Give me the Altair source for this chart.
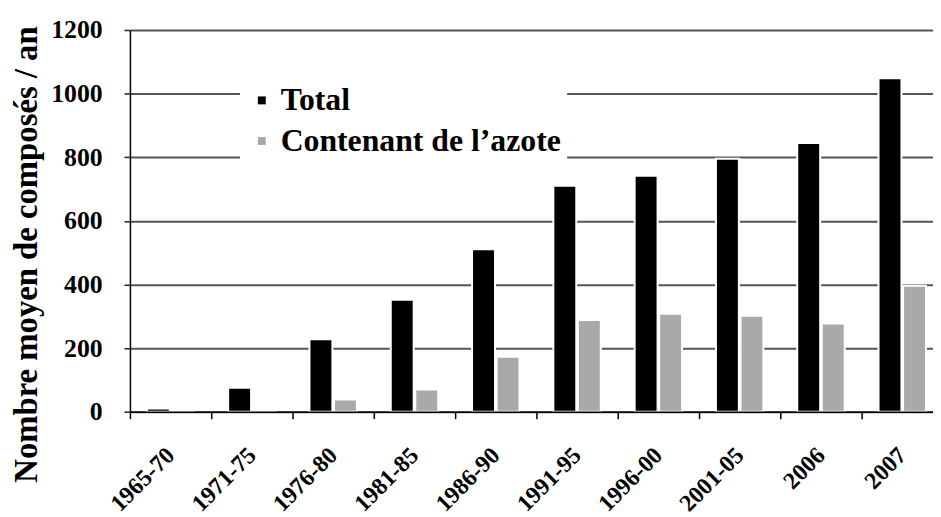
import altair as alt
import pandas as pd

periods = ["1965-70", "1971-75", "1976-80", "1981-85", "1986-90",
           "1991-95", "1996-00", "2001-05", "2006", "2007"]
total = [10, 75, 228, 352, 511, 710, 742, 795, 845, 1048]
azote = [0, 5, 38, 70, 173, 288, 308, 302, 277, 396]
series = ["Total", "Contenant de l’azote"]
colors = ["#000000", "#a9a9a9"]
y_ticks = [0, 200, 400, 600, 800, 1000, 1200]

rows = []
for p, t, a in zip(periods, total, azote):
    rows.append({"Période": p, "Série": series[0], "Valeur": t})
    rows.append({"Période": p, "Série": series[1], "Valeur": a})
df = pd.DataFrame(rows)

FONT = "'Liberation Serif', 'Times New Roman', Times, 'DejaVu Serif', serif"

chart = alt.Chart(df).mark_bar(stroke="white", strokeWidth=2).encode(
    x=alt.X(
        "Période:N", sort=periods,
        scale=alt.Scale(paddingInner=0, paddingOuter=0),
        axis=alt.Axis(
            title=None, labelAngle=-45, labelAlign="right", labelBaseline="middle",
            labelFontSize=24, labelFont=FONT, labelFontWeight="bold", labelColor="black",
            labelPadding=33, ticks=True, tickBand="extent", tickSize=7,
            tickColor="black", tickWidth=1.5, domainColor="black", domainWidth=1.5,
            grid=False, labelOverlap=False, zindex=1,
        ),
    ),
    xOffset=alt.XOffset("Série:N", sort=series,
                        scale=alt.Scale(paddingInner=0.066, paddingOuter=0.69)),
    y=alt.Y(
        "Valeur:Q",
        scale=alt.Scale(domain=[0, 1200], nice=False),
        axis=alt.Axis(
            title="Nombre moyen de composés / an", values=y_ticks, format="d",
            titleFont=FONT, titleFontSize=33, titleFontWeight="bold", titleColor="black",
            titleX=-94, titleY=226, titleAngle=-90, titleAlign="center",
            titleBaseline="alphabetic", titleLimit=0,
            labelFont=FONT, labelFontSize=26, labelFontWeight="bold", labelColor="black",
            labelPadding=22, tickSize=6, tickColor="#222222", tickWidth=1.5,
            domainColor="black", domainWidth=1.5,
            grid=True, gridColor="#555555", gridWidth=2,
        ),
    ),
    color=alt.Color(
        "Série:N", sort=series,
        scale=alt.Scale(domain=series, range=colors),
        legend=alt.Legend(
            title=None, orient="none", legendX=111, legendY=49,
            labelFont=FONT, labelFontSize=32, labelFontWeight="bold", labelColor="black",
            labelLimit=0,
            symbolType="square", symbolSize=64, symbolStrokeWidth=0,
            fillColor="white", padding=6, rowPadding=9, labelOffset=3,
        ),
    ),
).properties(
    width=820, height=385,
    autosize=alt.AutoSizeParams(type="none"),
    padding={"left": 123, "top": 20, "right": -10, "bottom": 102},
).configure_view(stroke=None)

chart.save("out.html", embed_options={"renderer": "svg", "actions": False})
